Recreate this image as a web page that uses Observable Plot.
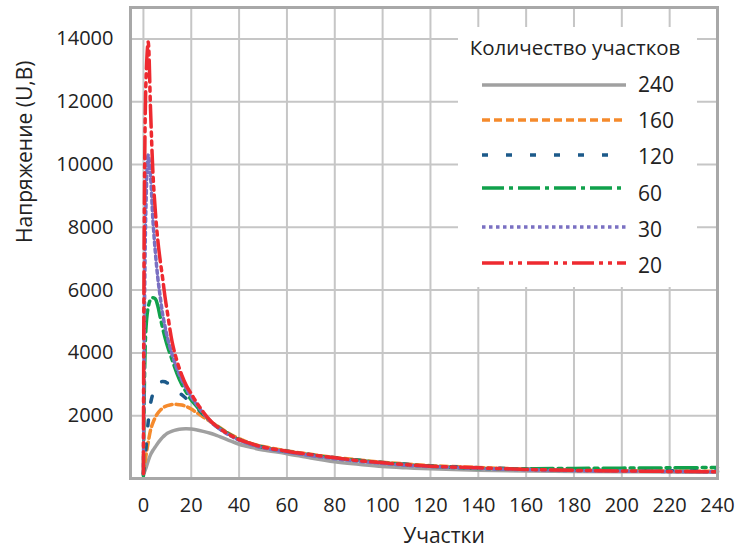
<!DOCTYPE html>
<html><head><meta charset="utf-8">
<script src="https://cdn.jsdelivr.net/npm/d3@7"></script>
<script src="https://cdn.jsdelivr.net/npm/@observablehq/plot@0.6"></script>
<style>
body{margin:0;background:#fff;}
#wrap{position:relative;width:747px;height:554px;font-family:"Open Sans",sans-serif;}
#legend{position:absolute;left:0;top:0;pointer-events:none;}
</style></head><body><div id="wrap"></div>
<script>
// x positions (участки)
const xs = [0,1,2,3,4,5,6,7,8,9,10,12,14,16,18,20,22,25,28,30,35,40,45,50,60,70,80,90,100,110,120,140,160,180,200,220,240];
// series values (U, B)
const s240 = [120,320,560,760,900,1010,1120,1220,1310,1380,1440,1510,1555,1580,1585,1575,1550,1500,1440,1390,1240,1090,990,910,790,650,530,450,380,340,310,265,240,225,215,205,200];
const s160 = [150,700,1150,1550,1780,1950,2080,2170,2240,2290,2320,2355,2360,2340,2290,2210,2110,1960,1810,1720,1470,1270,1120,1020,880,770,670,590,520,460,410,350,300,270,250,240,230];
const s120 = [150,900,1800,2400,2700,2880,2990,3060,3090,3080,3040,2930,2800,2670,2540,2410,2270,2040,1810,1680,1440,1240,1100,1000,870,760,660,580,510,450,400,345,300,275,260,250,240];
const s60  = [80,4700,5450,5700,5760,5720,5500,5150,4800,4500,4230,3780,3350,3000,2740,2500,2320,2060,1830,1700,1450,1240,1100,990,860,750,650,570,500,440,390,320,310,320,330,340,350];
const s30  = [150,8500,10300,9600,8200,7200,6400,5800,5250,4850,4500,3950,3500,3150,2850,2600,2380,2080,1820,1680,1420,1220,1080,980,840,730,630,550,480,420,380,320,280,250,235,225,215];
const s20  = [150,12500,13900,11700,9700,8500,7600,6950,6400,5800,5300,4350,3750,3300,2950,2700,2450,2120,1840,1700,1440,1240,1110,1000,870,760,660,570,500,440,390,340,290,260,240,225,215];

const seriesNames = ["240","160","120","60","30","20"];
const seriesValues = [s240, s160, s120, s60, s30, s20];
const xTickValues = [0,20,40,60,80,100,120,140,160,180,200,220,240];
const yTickValues = [2000,4000,6000,8000,10000,12000,14000];
const legendTitle = "Количество участков";
const xTitle = "Участки";
const yTitle = "Напряжение (U,B)";

const colors  = ["#a0a0a0","#f58a2c","#1c5a8a","#10a14b","#7a70c2","#ee2a30"];
const dashes  = ["none","8,4","6,18","22,5,4,5","3.5,3.5","22,5,4,5,4,5"];
const widths  = [3.5,3.5,3.5,3.5,3.5,3.5];

const rows = [];
seriesValues.forEach((vals, i) => vals.forEach((v, j) => rows.push({x: xs[j], y: v, s: seriesNames[i], i})));

const lineMarks = seriesNames.map((name, i) =>
  Plot.line(rows.filter(d => d.i === i), {
    x: "x", y: "y", stroke: colors[i], strokeWidth: widths[i],
    strokeDasharray: dashes[i], curve: "catmull-rom"
  })
);

const chart = Plot.plot({
  width: 747, height: 554,
  marginLeft: 130, marginRight: 30, marginTop: 7, marginBottom: 76,
  style: {fontFamily: "'Open Sans', sans-serif", fontSize: "20px", color: "#222", background: "white", overflow: "visible"},
  x: {domain: [-5.4, 240]},
  y: {domain: [0, 15000]},
  marks: [
    Plot.gridX(xTickValues.filter(v => v < 240), {stroke: "#c6c6c6", strokeOpacity: 1, strokeWidth: 2}),
    Plot.gridY(yTickValues, {stroke: "#c6c6c6", strokeOpacity: 1, strokeWidth: 2}),
    Plot.axisX(xTickValues, {tickSize: 0, tickPadding: 19, label: null, fontSize: 20, fill: "#222"}),
    Plot.axisY(yTickValues, {tickSize: 0, tickPadding: 17, label: null, fontSize: 20, fill: "#222", tickFormat: d => String(d)}),
    ...lineMarks,
    Plot.frame({stroke: "#a8a8a8", strokeWidth: 3}),
    Plot.text([xTitle], {frameAnchor: "bottom", dx: 20, dy: 64, fontSize: 21, fill: "#222"}),
    Plot.text([yTitle], {frameAnchor: "left", rotate: -90, dx: -105, fontSize: 21, fill: "#222"})
  ]
});
const wrap = document.getElementById("wrap");
wrap.appendChild(chart);

// legend overlay
const svg = d3.select(wrap).append("svg").attr("id", "legend").attr("width", 747).attr("height", 554);
svg.append("rect").attr("x", 458).attr("y", 27).attr("width", 239).attr("height", 260).attr("fill", "white");
svg.append("text").attr("x", 575).attr("y", 55).attr("text-anchor", "middle")
  .attr("font-family", "'Open Sans', sans-serif").attr("font-size", 20.5).attr("fill", "#222").text(legendTitle);
const lineY = [85, 120, 155, 188, 227, 263];
const labelY = [92, 128, 164, 201, 237, 273];
seriesNames.forEach((name, i) => {
  svg.append("line").attr("x1", 482).attr("x2", 626).attr("y1", lineY[i]).attr("y2", lineY[i])
    .attr("stroke", colors[i]).attr("stroke-width", widths[i]).attr("stroke-dasharray", dashes[i]);
  svg.append("text").attr("x", 638).attr("y", labelY[i])
    .attr("font-family", "'Open Sans', sans-serif").attr("font-size", 21).attr("fill", "#222").text(name);
});
</script></body></html>
